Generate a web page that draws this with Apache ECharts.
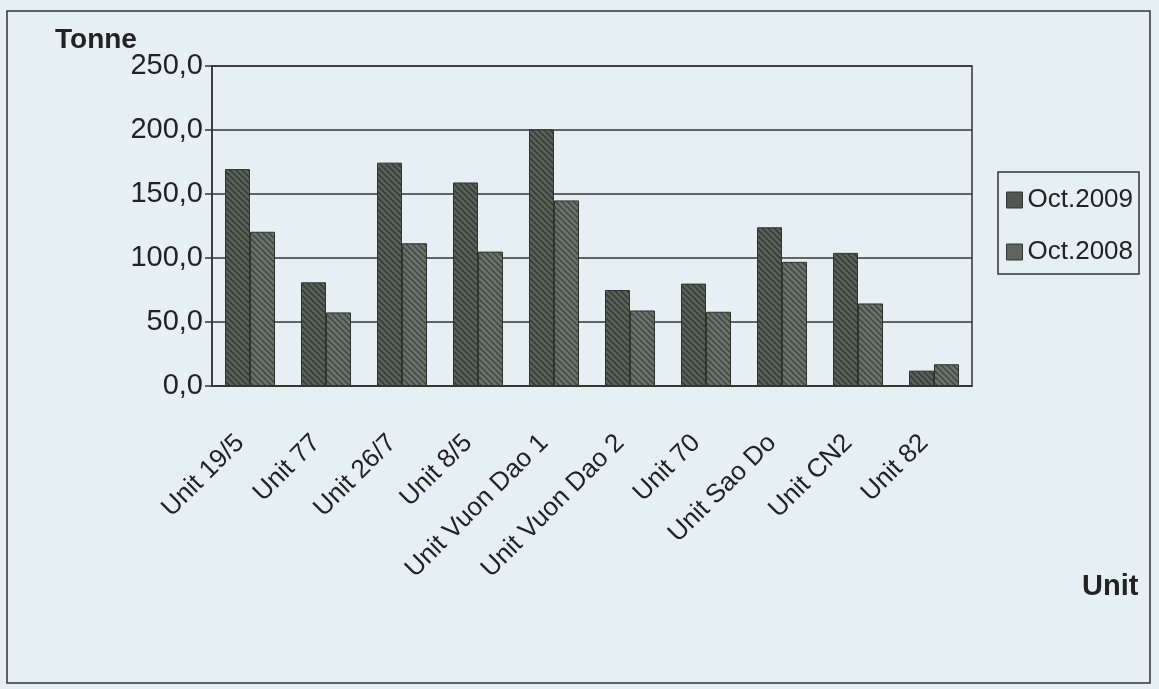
<!DOCTYPE html>
<html>
<head>
<meta charset="utf-8">
<script src="https://cdn.jsdelivr.net/npm/echarts@6/dist/echarts.min.js"></script>
<style>
html,body{margin:0;padding:0;background:#e6f0f4;}
#chart{width:1159px;height:689px;}
</style>
</head>
<body>
<div id="chart"></div>
<script>
var categories = ['Unit 19/5','Unit 77','Unit 26/7','Unit 8/5','Unit Vuon Dao 1','Unit Vuon Dao 2','Unit 70','Unit Sao Do','Unit CN2','Unit 82'];
var oct2009 = [169.5, 81, 174.5, 159, 200.5, 75, 80, 124, 104, 12];
var oct2008 = [120.5, 57.5, 111.5, 105, 145, 59, 58, 97, 64.5, 17];
var yTicks = {min: 0, max: 250, interval: 50};

function hatch(base, stripe) {
  var c = document.createElement('canvas');
  c.width = 6; c.height = 6;
  var g = c.getContext('2d');
  g.fillStyle = base; g.fillRect(0, 0, 6, 6);
  g.strokeStyle = stripe; g.lineWidth = 1.6;
  g.beginPath();
  g.moveTo(-1, -1); g.lineTo(7, 7);
  g.moveTo(-4, 2); g.lineTo(2, 8);
  g.moveTo(2, -4); g.lineTo(8, 2);
  g.stroke();
  return {image: c, repeat: 'repeat'};
}

var chart = echarts.init(document.getElementById('chart'));
var font = 'Liberation Sans, Arial, sans-serif';
chart.setOption({
  backgroundColor: '#e6f0f4',
  animation: false,
  grid: {left: 212, right: 187, top: 66, bottom: 303, show: true, borderColor: '#333', borderWidth: 1.5, backgroundColor: 'transparent'},
  graphic: [
    {type: 'rect', shape: {x: 7, y: 11, width: 1143, height: 672}, style: {fill: 'none', stroke: '#333', lineWidth: 1.5}, z: -1},
    {type: 'text', left: 55, top: 26, style: {text: 'Tonne', font: 'bold 28px ' + font, fill: '#222'}},
    {type: 'text', left: 1082, top: 572, style: {text: 'Unit', font: 'bold 29px ' + font, fill: '#222'}}
  ],
  legend: {
    orient: 'vertical', left: 998, top: 172, width: 147,
    padding: [15, 6, 9, 8], itemGap: 26,
    borderColor: '#333', borderWidth: 1.5,
    icon: 'rect', itemWidth: 16, itemHeight: 16,
    textStyle: {fontFamily: font, fontSize: 26, color: '#222'},
    data: [
      {name: 'Oct.2009', itemStyle: {color: '#4f574f', borderColor: '#333', borderWidth: 1}},
      {name: 'Oct.2008', itemStyle: {color: '#5e665e', borderColor: '#333', borderWidth: 1}}
    ]
  },
  xAxis: {
    type: 'category', data: categories,
    axisLine: {lineStyle: {color: '#333', width: 1.5}},
    axisTick: {length: 8, lineStyle: {color: '#333', width: 1.5}},
    axisLabel: {rotate: 45, margin: 43, padding: [0, 14, 0, 0], fontFamily: font, fontSize: 26, color: '#222', interval: 0}
  },
  yAxis: {
    type: 'value', min: yTicks.min, max: yTicks.max, interval: yTicks.interval,
    axisLine: {show: true, lineStyle: {color: '#333', width: 1.5}},
    axisTick: {show: true, length: 7, lineStyle: {color: '#333', width: 1.5}},
    splitLine: {lineStyle: {color: '#333', width: 1.5}},
    axisLabel: {margin: 9, fontFamily: font, fontSize: 29, color: '#222',
      formatter: function (v) { return v.toFixed(1).replace('.', ','); }}
  },
  series: [
    {name: 'Oct.2009', type: 'bar', data: oct2009, barWidth: 25, barGap: '0%',
      itemStyle: {color: hatch('#5a625a', '#363d37'), borderColor: '#2e332e', borderWidth: 1}},
    {name: 'Oct.2008', type: 'bar', data: oct2008, barWidth: 25,
      itemStyle: {color: hatch('#6b736b', '#434a44'), borderColor: '#2e332e', borderWidth: 1}}
  ]
});
</script>
</body>
</html>
